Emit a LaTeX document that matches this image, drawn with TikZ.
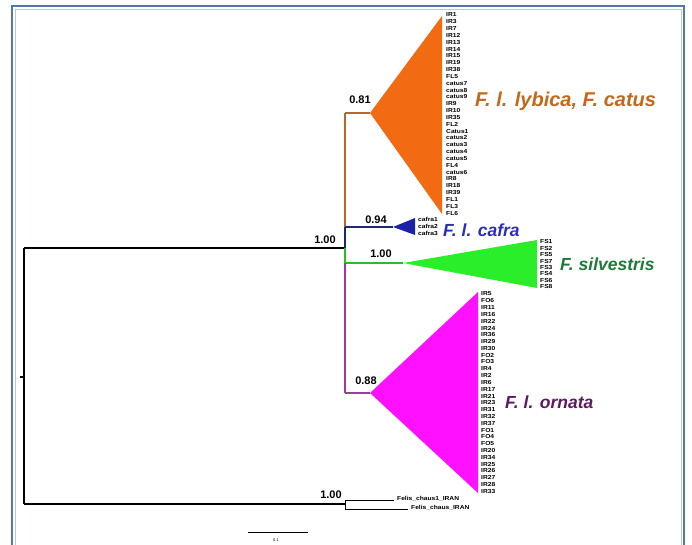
\documentclass[tikz,border=0pt]{standalone}
\usepackage{fontspec}
\setmainfont{Liberation Sans}
\newfontfamily\leaffont[FakeStretch=1.15]{Liberation Sans}
\definecolor{lyb}{HTML}{F26B12}
\definecolor{lybbr}{HTML}{B8682A}
\definecolor{lybtx}{HTML}{C4681C}
\definecolor{caf}{HTML}{1C22A8}
\definecolor{cafbr}{HTML}{1E2A6E}
\definecolor{caftx}{HTML}{2A2FB8}
\definecolor{sil}{HTML}{2AEE2A}
\definecolor{silbr}{HTML}{30B830}
\definecolor{siltx}{HTML}{1E7A36}
\definecolor{orn}{HTML}{FF10FF}
\definecolor{ornbr}{HTML}{9C3C9C}
\definecolor{orntx}{HTML}{5E1A60}
\definecolor{frame}{HTML}{5676A6}
\begin{document}
\begin{tikzpicture}[x=1pt,y=-1pt,
  leaf/.style={font=\leaffont\fontsize{5.8}{6}\selectfont\bfseries, anchor=west, inner sep=0pt},
  boot/.style={font=\fontsize{11}{12}\selectfont\bfseries, inner sep=0pt},
  clade/.style={font=\fontsize{17.5}{18}\selectfont\bfseries\itshape, anchor=west, inner sep=0pt},
  br/.style={line width=1.3pt}]
\useasboundingbox (0,0) rectangle (692,545);
\fill[white] (0,0) rectangle (692,545);
% frame
\draw[frame, line width=1.4pt] (12,545) -- (12,6) -- (684,6) -- (684,545);
\draw[frame!40, line width=0.6pt] (15,545) -- (15,9) -- (681,9) -- (681,545);

% coordinates
\coordinate (rt) at (24,248);
\coordinate (rb) at (24,504);
\coordinate (rk) at (20,377);
\coordinate (rk2) at (24,377);
\coordinate (m) at (345,248);
\coordinate (mly) at (345,113);
\coordinate (mca) at (345,227);
\coordinate (msi) at (345,263);
\coordinate (mor) at (345,393);
\coordinate (tly) at (370,113);
\coordinate (tca) at (393,227);
\coordinate (tsi) at (403,263);
\coordinate (tor) at (370,393);
\coordinate (fc) at (345,504);
\coordinate (fcu) at (345,500);
\coordinate (fcl) at (345,509);
\coordinate (fce1) at (394,500);
\coordinate (fce2) at (408,509);
\coordinate (sb1) at (248,532);
\coordinate (sb2) at (308,532);

% triangles
\fill[lyb] (tly) -- (442,16) -- (442,214) -- cycle;
\fill[caf] (tca) -- (415,218) -- (415,235) -- cycle;
\fill[sil] (tsi) -- (537,240) -- (537,288) -- cycle;
\fill[orn] (tor) -- (478,292) -- (478,493) -- cycle;

% branches
\draw[br] (rt) -- (rb);
\draw[br] (rk) -- (rk2);
\draw[br] (rt) -- (m);
\draw[br, lybbr] (mly) -- (mca);
\draw[br, lybbr] (mly) -- (tly);
\draw[br, cafbr] (mca) -- (m);
\draw[br, cafbr] (mca) -- (tca);
\draw[br, silbr] (m) -- (msi);
\draw[br, silbr] (msi) -- (tsi);
\draw[br, ornbr] (msi) -- (mor);
\draw[br, ornbr] (mor) -- (tor);
\draw[br] (rb) -- (fc);
\draw[line width=0.9pt] (fcu) -- (fcl);
\draw[line width=0.9pt] (fcu) -- (fce1);
\draw[line width=0.9pt] (fcl) -- (fce2);
\draw[line width=1pt] (sb1) -- (sb2);

% bootstrap
\node[boot] (b1) at (325,240) {1.00};
\node[boot] (b2) at (360,100) {0.81};
\node[boot] (b3) at (376,220) {0.94};
\node[boot] (b4) at (381,254) {1.00};
\node[boot] (b5) at (366,381) {0.88};
\node[boot] (b6) at (331,495) {1.00};

% leaves
\foreach \t [count=\i from 0] in {IR1,IR3,IR7,IR12,IR13,IR14,IR15,IR19,IR38,FL5,catus7,catus8,catus9,IR9,IR10,IR35,FL2,Catus1,catus2,catus3,catus4,catus5,FL4,catus6,IR8,IR18,IR39,FL1,FL3,FL6}
  \node[leaf] (ly\i) at (446,{15+\i*6.83}) {\t};
\foreach \t [count=\i from 0] in {cafra1,cafra2,cafra3}
  \node[leaf] (ca\i) at (418,{219+\i*7.3}) {\t};
\foreach \t [count=\i from 0] in {FS1,FS2,FS5,FS7,FS3,FS4,FS6,FS8}
  \node[leaf] (si\i) at (540,{242+\i*6.4}) {\t};
\foreach \t [count=\i from 0] in {IR5,FO6,IR11,IR16,IR22,IR24,IR36,IR29,IR30,FO2,FO3,IR4,IR2,IR6,IR17,IR21,IR23,IR31,IR32,IR37,FO1,FO4,FO5,IR20,IR34,IR25,IR26,IR27,IR28,IR33}
  \node[leaf] (or\i) at (481,{294+\i*6.8}) {\t};
\node[leaf] (fc1) at (397,499) {Felis\_chaus1\_IRAN};
\node[leaf] (fc2) at (411,508) {Felis\_chaus\_IRAN};
\node[font=\fontsize{4}{5}\selectfont, inner sep=0pt] (sbl) at (276,540) {0.1};

% clade labels
\node[clade, lybtx, font=\fontsize{20}{21}\selectfont\bfseries\itshape] (cly) at (475,101) {F. l. lybica, F. catus};
\node[clade, caftx] (cca) at (443,230) {F. l. cafra};
\node[clade, siltx] (csi) at (560,264) {F. silvestris};
\node[clade, orntx] (cor) at (505,402) {F. l. ornata};
\end{tikzpicture}
\end{document}
